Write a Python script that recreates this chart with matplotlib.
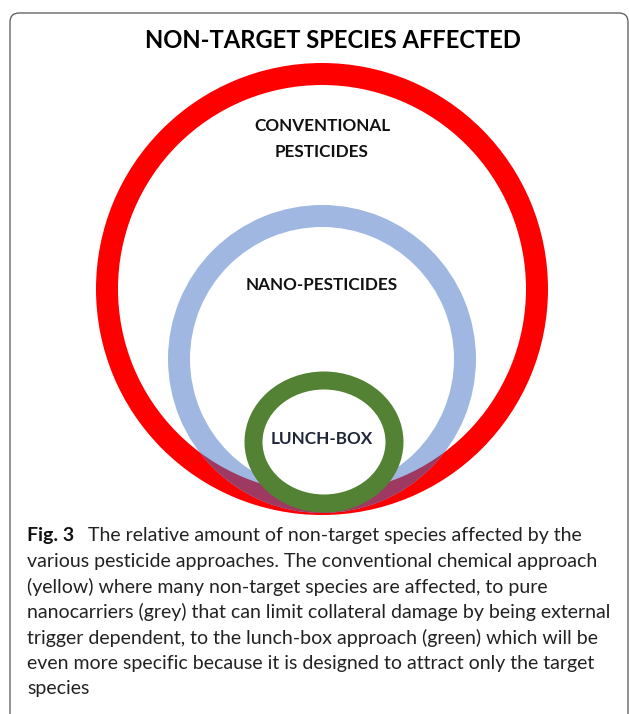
import matplotlib
matplotlib.use("Agg")
import matplotlib.pyplot as plt
from matplotlib.patches import Wedge, Ellipse, FancyBboxPatch

W, H, DPI = 629, 714, 100

# ring geometry in pixels: centre x, centre y, outer radius, thickness
red_ring = [322, 289, 226, 22]
blue_ring = [322, 359, 154, 22]
# green is an ellipse: centre x, centre y, outer half-width, outer half-height, thickness
green_ring = [324, 442, 79.5, 70.5, 18]

title = "NON-TARGET SPECIES AFFECTED"
labels = ["CONVENTIONAL\nPESTICIDES", "NANO-PESTICIDES", "LUNCH-BOX"]
label_pos = [(322, 139), (322, 285), (322, 439)]
label_colors = ["#111111", "#111111", "#1f2639"]

caption_head = "Fig. 3"
caption_lines = [
    "The relative amount of non-target species affected by the",
    "various pesticide approaches. The conventional chemical approach",
    "(yellow) where many non-target species are affected, to pure",
    "nanocarriers (grey) that can limit collateral damage by being external",
    "trigger dependent, to the lunch-box approach (green) which will be",
    "even more specific because it is designed to attract only the target",
    "species",
]

RED = "#ff0000"
BLUE = "#a0b8e1"
PURPLE = "#9e3a62"
GREEN = "#548235"

fig = plt.figure(figsize=(W / DPI, H / DPI), dpi=DPI)
ax = fig.add_axes([0, 0, 1, 1])
ax.set_xlim(0, W)
ax.set_ylim(H, 0)
ax.axis("off")

# frame around the figure panel
frame = FancyBboxPatch((10, 13), 618, 740, boxstyle="round,pad=0,rounding_size=9",
                       fc="none", ec="#555555", lw=0.9, clip_on=False)
ax.add_patch(frame)

cx, cy, r, t = red_ring
red = Wedge((cx, cy), r, 0, 360, width=t, fc=RED, ec="none")
ax.add_patch(red)

bx, by, br, bt = blue_ring
blue = Wedge((bx, by), br, 0, 360, width=bt, fc=BLUE, ec="none")
ax.add_patch(blue)

# overlap of red and blue rings
overlap = Wedge((cx, cy), r, 0, 360, width=t, fc=PURPLE, ec="none")
ax.add_patch(overlap)
overlap.set_clip_path(blue)

gx, gy, ga, gb, gt = green_ring
green = Ellipse((gx, gy), 2 * (ga - gt / 2), 2 * (gb - gt / 2),
                fc="white", ec=GREEN, lw=gt * 72 / DPI)
ax.add_patch(green)

ax.text(333, 40, title, ha="center", va="center", fontsize=17.1,
        fontweight="bold", family="Lato", color="black")

for txt, (x, y), c in zip(labels, label_pos, label_colors):
    ax.text(x, y, txt, ha="center", va="center", fontsize=12.3,
            fontweight="bold", family="Lato", color=c, linespacing=1.75)

cap_y0, cap_dy = 536, 25.4
ax.text(27, cap_y0, caption_head, ha="left", va="center", fontsize=14.0,
        fontweight="bold", family="Lato", color="#111111")
for i, line in enumerate(caption_lines):
    x = 88 if i == 0 else 27
    ax.text(x, cap_y0 + i * cap_dy, line, ha="left", va="center", fontsize=14.0,
            fontweight="normal", family="Lato", color="#222222")

fig.savefig("out.png", dpi=DPI)
